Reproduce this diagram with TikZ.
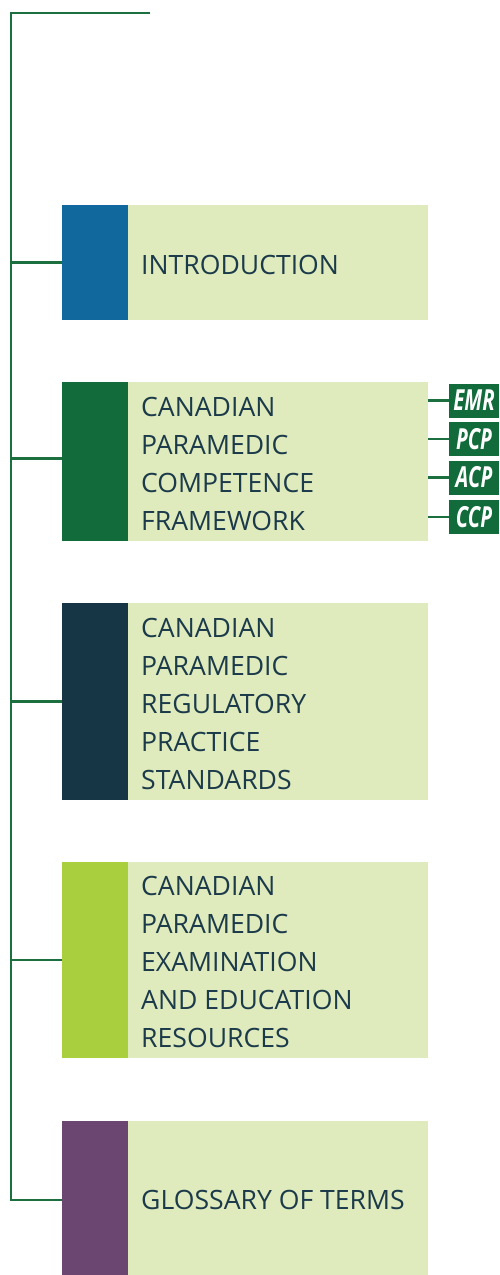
\documentclass[tikz,border=0pt]{standalone}
\usepackage{fontspec}
\setmainfont{Open Sans}
\newfontfamily\tagfont[FakeStretch=0.70]{Open Sans}
\definecolor{spine}{HTML}{1C6F3F}
\definecolor{introblue}{HTML}{10689C}
\definecolor{framegreen}{HTML}{116B3A}
\definecolor{navy}{HTML}{163646}
\definecolor{lime}{HTML}{A9CF3E}
\definecolor{plum}{HTML}{6A4670}
\definecolor{pale}{HTML}{E0EBBD}
\definecolor{ink}{HTML}{1B3A4A}
\tikzset{
  bar/.style={anchor=north west, minimum width=66pt, inner sep=0pt, outer sep=0pt, draw=none},
  panel/.style={anchor=north west, fill=pale, minimum width=300pt, inner sep=0pt, outer sep=0pt, draw=none},
  caption/.style={anchor=west, inner sep=0pt, align=left, text=ink,
    font=\fontsize{26.6}{38}\selectfont},
  tagbox/.style={fill=framegreen, minimum width=50pt, minimum height=34pt, inner sep=0pt,
    outer sep=0pt, text=white, font=\tagfont\bfseries\itshape\fontsize{29}{29}\selectfont},
  link/.style={draw=spine, line width=2.3pt}
}
\begin{document}
\begin{tikzpicture}[x=1pt,y=-1pt]
\useasboundingbox (0,0) rectangle (499,1275);

% colour bars and their panels
\node[bar, fill=introblue, minimum height=115pt] (b1) at (62,205) {};
\node[panel, minimum height=115pt] (p1) at (128,205) {};
\node[bar, fill=framegreen, minimum height=159pt] (b2) at (62,382) {};
\node[panel, minimum height=159pt] (p2) at (128,382) {};
\node[bar, fill=navy, minimum height=197pt] (b3) at (62,603) {};
\node[panel, minimum height=197pt] (p3) at (128,603) {};
\node[bar, fill=lime, minimum height=196pt] (b4) at (62,862) {};
\node[panel, minimum height=196pt] (p4) at (128,862) {};
\node[bar, fill=plum, minimum height=154pt] (b5) at (62,1121) {};
\node[panel, minimum height=154pt] (p5) at (128,1121) {};

% captions
\node[caption] (t1) at ([xshift=13pt,yshift=-2pt]p1.west) {INTRODUCTION};
\node[caption] (t2) at ([xshift=13pt,yshift=-2pt]p2.west) {CANADIAN\\PARAMEDIC\\COMPETENCE\\FRAMEWORK};
\node[caption] (t3) at ([xshift=13pt,yshift=-2pt]p3.west) {CANADIAN\\PARAMEDIC\\REGULATORY\\PRACTICE\\STANDARDS};
\node[caption] (t4) at ([xshift=13pt,yshift=-2pt]p4.west) {CANADIAN\\PARAMEDIC\\EXAMINATION\\AND EDUCATION\\RESOURCES};
\node[caption] (t5) at ([xshift=13pt,yshift=-2pt]p5.west) {GLOSSARY OF TERMS};

% practitioner levels
\node[tagbox] (emr) at (474,400.5) {EMR};
\node[tagbox] (pcp) at (474,439) {PCP};
\node[tagbox] (acp) at (474,477.5) {ACP};
\node[tagbox] (ccp) at (474,517) {CCP};

% branch ends on the bars
\coordinate (e1) at (b1.west);
\coordinate (e2) at ([yshift=3pt]b2.west);
\coordinate (e3) at (b3.west);
\coordinate (e4) at (b4.west);
\coordinate (e5) at ([yshift=-2pt]b5.west);

% spine and branches
\coordinate (topend) at (150,13);
\coordinate (corner) at (11,13);
\draw[link] (topend) -- (corner) |- (e5);
\foreach \e in {e1,e2,e3,e4}
  \draw[link] (corner |- \e) -- (\e);
\foreach \t in {emr,pcp,acp,ccp}
  \draw[link] (p2.east |- \t.west) -- (\t.west);
\end{tikzpicture}
\end{document}
